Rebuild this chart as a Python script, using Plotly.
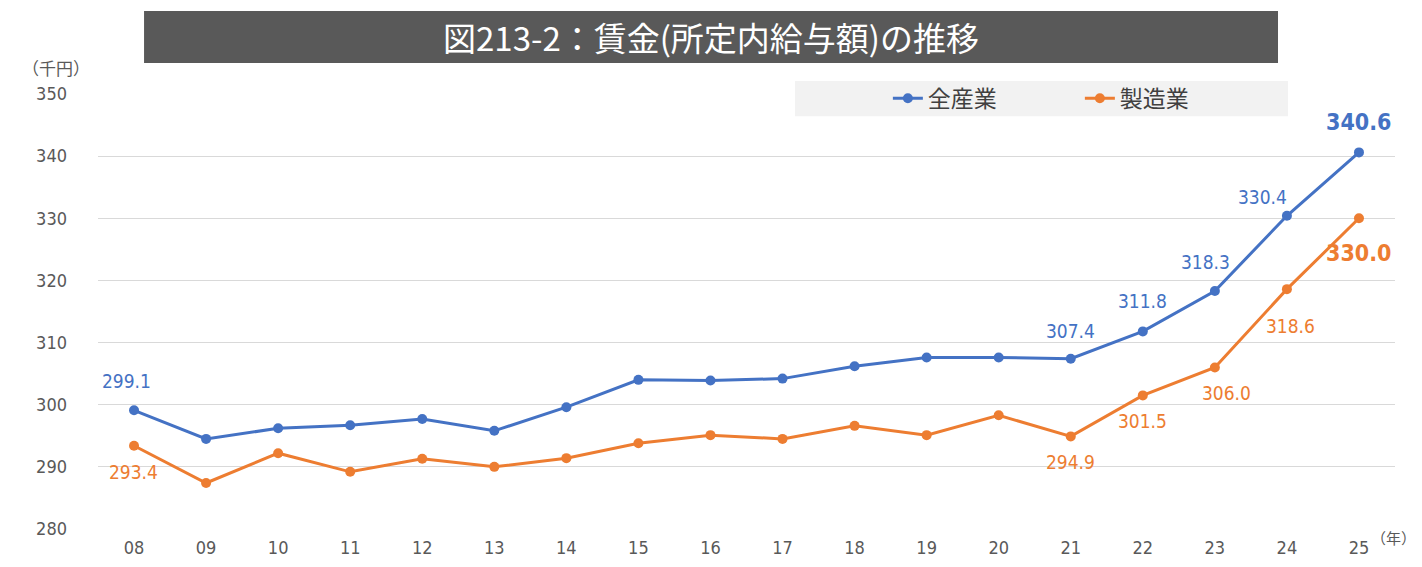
import plotly.graph_objects as go

years = ["08", "09", "10", "11", "12", "13", "14", "15", "16",
         "17", "18", "19", "20", "21", "22", "23", "24", "25"]
all_industry = [299.1, 294.5, 296.2, 296.7, 297.7, 295.8, 299.6, 304.0, 303.9,
                304.2, 306.2, 307.6, 307.6, 307.4, 311.8, 318.3, 330.4, 340.6]
manufacturing = [293.4, 287.4, 292.2, 289.2, 291.3, 290.0, 291.4, 293.8, 295.1,
                 294.5, 296.6, 295.1, 298.3, 294.9, 301.5, 306.0, 318.6, 330.0]

# which points get a value label: (index, xshift, yshift)
blue_labels = [(0, -8, 29), (13, 0, 28), (14, 0, 30), (15, -9, 29), (16, -24, 19)]
orange_labels = [(0, -1, -26), (13, 0, -26), (14, 0, -26), (15, 12, -26), (16, 4, -37)]

BLUE = "#4472C4"
ORANGE = "#ED7D31"
NUM_FONT = "DejaVu Sans Condensed, Liberation Sans Narrow, sans-serif"
JP_FONT = "Noto Sans CJK JP"

fig = go.Figure()
fig.add_trace(go.Scatter(
    x=years, y=all_industry, name="全産業", mode="lines+markers",
    line=dict(color=BLUE, width=3), marker=dict(color=BLUE, size=10),
))
fig.add_trace(go.Scatter(
    x=years, y=manufacturing, name="製造業", mode="lines+markers",
    line=dict(color=ORANGE, width=3), marker=dict(color=ORANGE, size=10),
))

# annotations on a category axis take the category index
for i, dx, dy in blue_labels:
    fig.add_annotation(x=i, y=all_industry[i], text=f"{all_industry[i]:.1f}",
                       showarrow=False, xshift=dx, yshift=dy,
                       font=dict(family=NUM_FONT, size=19, color=BLUE))
for i, dx, dy in orange_labels:
    fig.add_annotation(x=i, y=manufacturing[i], text=f"{manufacturing[i]:.1f}",
                       showarrow=False, xshift=dx, yshift=dy,
                       font=dict(family=NUM_FONT, size=19, color=ORANGE))
last = len(years) - 1
fig.add_annotation(x=last, y=all_industry[-1], text=f"<b>{all_industry[-1]:.1f}</b>",
                   showarrow=False, yshift=30,
                   font=dict(family=NUM_FONT, size=23, color=BLUE))
fig.add_annotation(x=last, y=manufacturing[-1], text=f"<b>{manufacturing[-1]:.1f}</b>",
                   showarrow=False, yshift=-35,
                   font=dict(family=NUM_FONT, size=23, color=ORANGE))

# title bar
fig.add_shape(type="rect", xref="paper", yref="paper",
              x0=0.0355, x1=0.9098, y0=1.0713, y1=1.1908,
              fillcolor="#595959", line_width=0, layer="below")
fig.add_annotation(xref="paper", yref="paper", x=0.4726, y=1.131,
                   xanchor="center", yanchor="middle",
                   text="図213-2：賃金(所定内給与額)の推移", showarrow=False,
                   font=dict(family=JP_FONT, size=33, color="white"))
# legend background
fig.add_shape(type="rect", xref="paper", yref="paper",
              x0=0.5374, x1=0.9175, y0=0.949, y1=1.030,
              fillcolor="#f2f2f2", line_width=0, layer="below")

fig.add_annotation(xref="paper", yref="paper", x=-0.032, y=1.06,
                   xanchor="center", yanchor="middle",
                   text="（千円）", showarrow=False,
                   font=dict(family=JP_FONT, size=17, color="#595959"))
fig.add_annotation(xref="paper", yref="paper", x=1.018, y=-0.02,
                   xanchor="right", yanchor="middle",
                   text="（年）", showarrow=False,
                   font=dict(family=JP_FONT, size=15, color="#595959"))

fig.update_layout(
    width=1422, height=567,
    margin=dict(l=98, r=27, t=94, b=38),
    plot_bgcolor="white", paper_bgcolor="white",
    showlegend=True,
    legend=dict(orientation="h", x=0.609, y=0.99, xanchor="left", yanchor="middle",
                bgcolor="rgba(0,0,0,0)", entrywidth=147,
                font=dict(family=JP_FONT, size=23, color="#404040")),
    xaxis=dict(type="category", range=[-0.5, 17.5], showgrid=False, showline=False,
               ticks="", automargin=False, ticklabelstandoff=6,
               tickfont=dict(family=NUM_FONT, size=18, color="#595959")),
    yaxis=dict(range=[280, 350], dtick=10, showgrid=True, gridcolor="#d9d9d9",
               gridwidth=1, zeroline=False, showline=False, ticks="",
               automargin=False, ticklabelstandoff=30,
               tickfont=dict(family=NUM_FONT, size=18, color="#595959")),
)

fig.write_html("out.html", config={"displayModeBar": False},
               post_script="document.body.style.margin='0';")
